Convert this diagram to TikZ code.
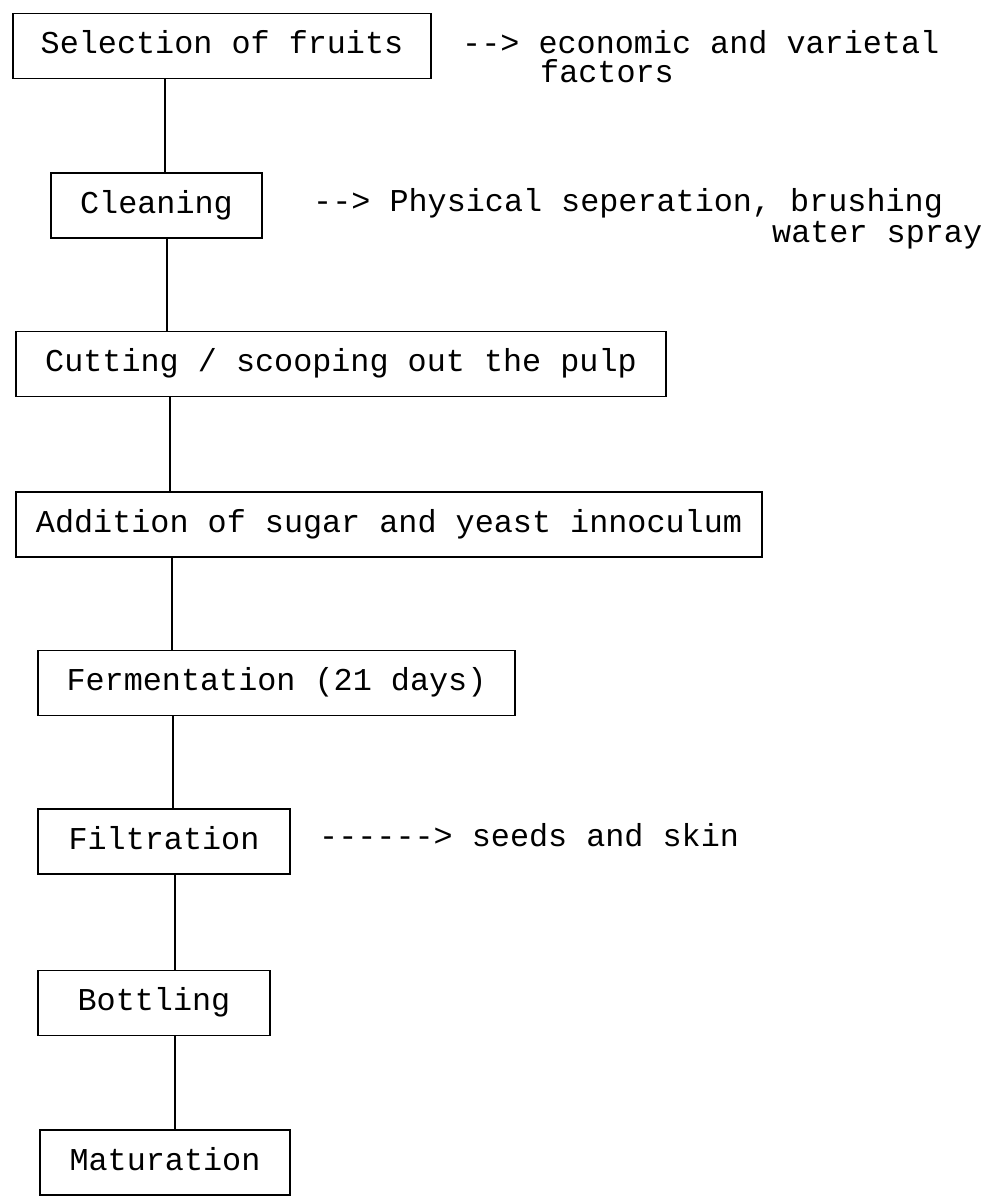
\documentclass[tikz,border=0pt]{standalone}
\usepackage{fontspec}
\setmonofont{Liberation Mono}
\begin{document}
\begin{tikzpicture}[x=1pt,y=-1pt,
  stepbox/.style={draw, line width=1.9pt, inner sep=0pt, minimum height=65pt,
    text height=21pt, text depth=6pt, font=\ttfamily\fontsize{31.8}{36}\selectfont},
  note/.style={anchor=base west, inner sep=0pt, font=\ttfamily\fontsize{31.8}{36}\selectfont},
  link/.style={line width=1.7pt}]
\useasboundingbox (0,0) rectangle (997,1202);
\node[stepbox, minimum width=418pt] (sel) at (222,46) {Selection of fruits};
\node[stepbox, minimum width=211pt] (clean) at (156.5,205.5) {Cleaning};
\node[stepbox, minimum width=650pt] (cut) at (341,364) {Cutting / scooping out the pulp};
\node[stepbox, minimum width=746pt] (add) at (389,524.5) {Addition of sugar and yeast innoculum};
\node[stepbox, minimum width=477pt] (ferm) at (276.5,683) {Fermentation (21 days)};
\node[stepbox, minimum width=252pt] (filt) at (164,841.5) {Filtration};
\node[stepbox, minimum width=232pt] (bott) at (154,1003) {Bottling};
\node[stepbox, minimum width=250pt] (mat) at (165,1162.5) {Maturation};
\coordinate (c1) at (165,0);
\coordinate (c2) at (167,0);
\coordinate (c3) at (170,0);
\coordinate (c4) at (172,0);
\coordinate (c5) at (173,0);
\coordinate (c6) at (175,0);
\coordinate (c7) at (175,0);
\draw[link] (sel.south -| c1) -- (clean.north -| c1);
\draw[link] (clean.south -| c2) -- (cut.north -| c2);
\draw[link] (cut.south -| c3) -- (add.north -| c3);
\draw[link] (add.south -| c4) -- (ferm.north -| c4);
\draw[link] (ferm.south -| c5) -- (filt.north -| c5);
\draw[link] (filt.south -| c6) -- (bott.north -| c6);
\draw[link] (bott.south -| c7) -- (mat.north -| c7);
\node[note] (n1) at (462,53) {--> economic and varietal};
\node[note] (n1b) at (540,82) {factors};
\node[note] (n2) at (313,211) {--> Physical seperation, brushing};
\node[note] (n2b) at (772,242) {water spray};
\node[note] (n3) at (319,846) {------> seeds and skin};
\end{tikzpicture}
\end{document}
